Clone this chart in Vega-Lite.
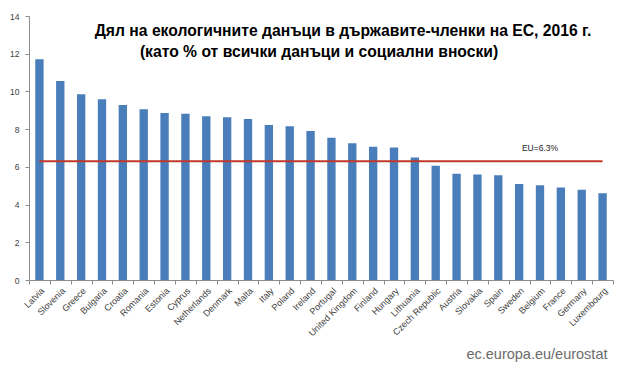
{
  "$schema": "https://vega.github.io/schema/vega-lite/v6.json",
  "width": 584,
  "height": 264,
  "autosize": {"type": "none"},
  "padding": {"left": 29, "top": 16, "right": 17, "bottom": 90},
  "background": "white",
  "config": {
    "view": {"stroke": null},
    "axis": {"domainColor": "#8c8c8c", "tickColor": "#8c8c8c", "labelColor": "#404040", "labelFont": "Liberation Sans", "labelFontSize": 8.5, "grid": false, "labelOverlap": false, "labelBound": false, "labelSeparation": 0}
  },
  "title": {
    "text": "Дял на екологичните данъци в държавите-членки на ЕС, 2016 г.",
    "subtitle": "(като % от всички данъци и социални вноски)\u00a0\u00a0\u00a0\u00a0\u00a0\u00a0\u00a0\u00a0\u00a0\u00a0\u00a0\u2060",
    "font": "Liberation Sans",
    "subtitleFont": "Liberation Sans",
    "fontSize": 15.7,
    "subtitleFontSize": 15.7,
    "fontWeight": "bold",
    "subtitleFontWeight": "bold",
    "color": "black",
    "subtitleColor": "black",
    "anchor": "middle",
    "dx": 22,
    "offset": -49,
    "subtitlePadding": 6
  },
  "data": {
    "values": [
      {"country": "Latvia", "value": 11.7},
      {"country": "Slovenia", "value": 10.55},
      {"country": "Greece", "value": 9.85},
      {"country": "Bulgaria", "value": 9.58},
      {"country": "Croatia", "value": 9.28},
      {"country": "Romania", "value": 9.05},
      {"country": "Estonia", "value": 8.85},
      {"country": "Cyprus", "value": 8.82},
      {"country": "Netherlands", "value": 8.68},
      {"country": "Denmark", "value": 8.63},
      {"country": "Malta", "value": 8.54},
      {"country": "Italy", "value": 8.22},
      {"country": "Poland", "value": 8.15},
      {"country": "Ireland", "value": 7.9},
      {"country": "Portugal", "value": 7.55},
      {"country": "United Kingdom", "value": 7.25},
      {"country": "Finland", "value": 7.07},
      {"country": "Hungary", "value": 7.02},
      {"country": "Lithuania", "value": 6.5},
      {"country": "Czech Republic", "value": 6.06},
      {"country": "Austria", "value": 5.64},
      {"country": "Slovakia", "value": 5.6},
      {"country": "Spain", "value": 5.55},
      {"country": "Sweden", "value": 5.09},
      {"country": "Belgium", "value": 5.02},
      {"country": "France", "value": 4.9},
      {"country": "Germany", "value": 4.79},
      {"country": "Luxembourg", "value": 4.6}
    ]
  },
  "encoding": {
    "x": {
      "field": "country",
      "type": "nominal",
      "sort": null,
      "scale": {"paddingInner": 0, "paddingOuter": 0},
      "axis": {
        "labelAngle": -45,
        "tickBand": "extent",
        "tickSize": 4,
        "labelPadding": 2,
        "labelFontSize": 9,
        "title": "ec.europa.eu/eurostat",
        "titleFont": "Liberation Sans",
        "titleFontSize": 14.5,
        "titleFontWeight": "normal",
        "titleColor": "#6b6b6b",
        "titleAnchor": "end",
        "titleAlign": "right",
        "titleBaseline": "alphabetic",
        "titleX": 578,
        "titleY": 78
      }
    }
  },
  "layer": [
    {
      "mark": {"type": "bar", "color": "#4a7ebb", "width": {"band": 0.4}},
      "encoding": {
        "y": {
          "field": "value",
          "type": "quantitative",
          "scale": {"domain": [0, 14], "nice": false, "zero": true},
          "axis": {"values": [0, 2, 4, 6, 8, 10, 12, 14], "tickCount": 20, "format": "d", "labelOverlap": false, "tickSize": 4, "labelPadding": 6, "title": null}
        }
      }
    },
    {
      "mark": {"type": "line", "color": "#c0392b", "strokeWidth": 2},
      "encoding": {"y": {"datum": 6.3}}
    },
    {
      "data": {"values": [{"label": "EU=6.3%"}]},
      "mark": {"type": "text", "font": "Liberation Sans", "fontSize": 8.5, "color": "#222", "baseline": "middle"},
      "encoding": {
        "x": {"datum": "Belgium"},
        "y": {"datum": 7.0},
        "text": {"field": "label"}
      }
    }
  ]
}
